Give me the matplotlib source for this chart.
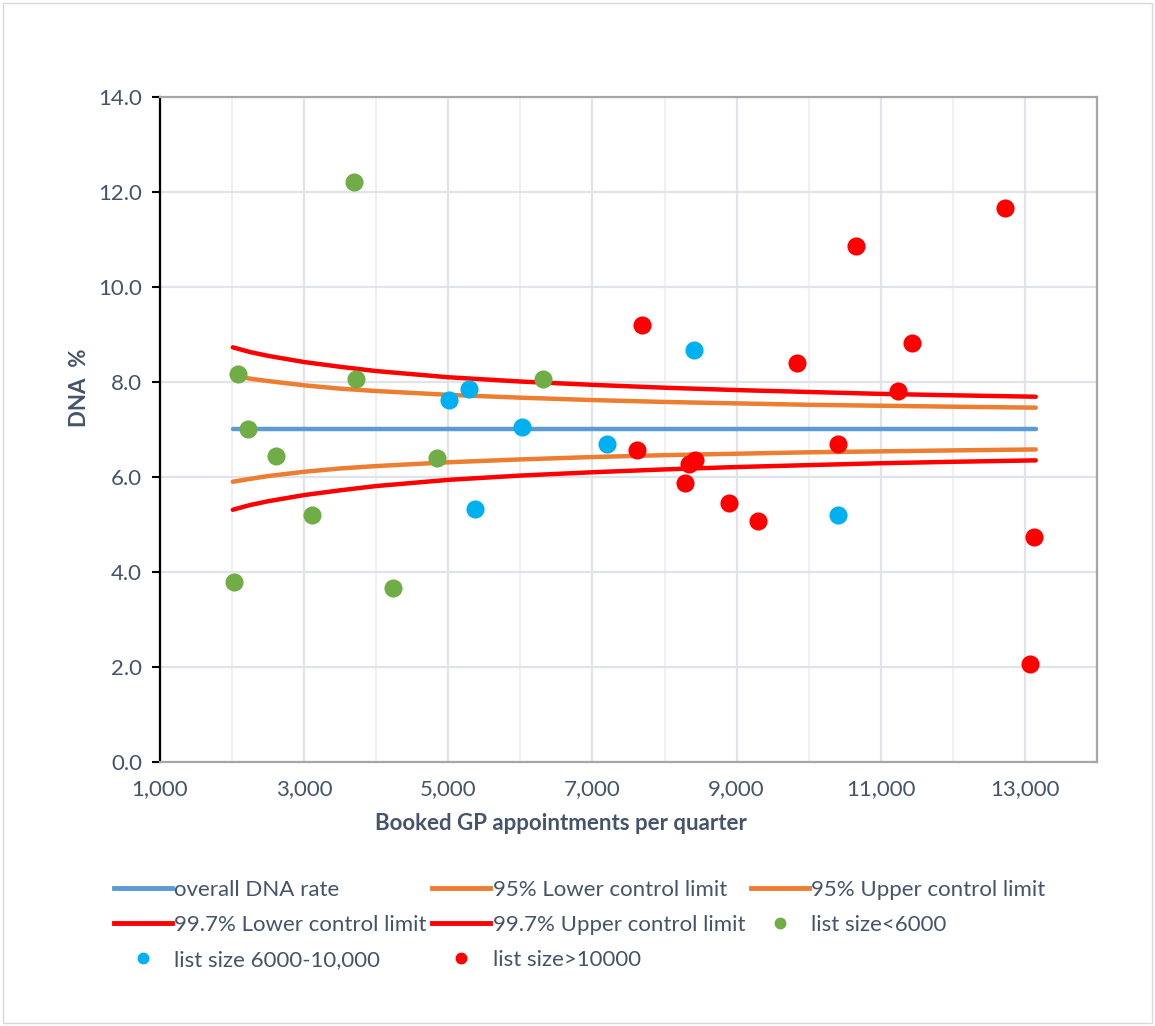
import matplotlib
matplotlib.use('Agg')
import matplotlib.pyplot as plt
import matplotlib.patches as mp
from matplotlib.lines import Line2D

plt.rcParams['font.family'] = ['Lato', 'DejaVu Sans']

# practices, split by list size
small_x = [2086, 2225, 2609, 3104, 2022, 3724, 3696, 4237, 4839, 6318]
small_y = [8.17, 7.01, 6.44, 5.19, 3.78, 8.06, 12.22, 3.66, 6.40, 8.06]

mid_x = [5010, 5287, 6026, 5375, 7206, 8404, 10411]
mid_y = [7.62, 7.85, 7.05, 5.32, 6.69, 8.67, 5.19]

large_x = [7687, 9837, 11437, 11239, 7618, 8422, 8344, 8284, 8889, 9296, 10411,
           13125, 10656, 12719, 13074]
large_y = [9.21, 8.41, 8.83, 7.82, 6.56, 6.35, 6.27, 5.88, 5.46, 5.07, 6.69,
           4.73, 10.86, 11.67, 2.06]

# control limits
lim_x = [2010, 2250, 2500, 3000, 3500, 4000, 5000, 6000, 7000, 8000, 9000, 10000, 11000, 12000, 13150]
overall = [7.02] * len(lim_x)
u95 = [8.14, 8.07, 8.02, 7.93, 7.86, 7.81, 7.73, 7.67, 7.62, 7.58, 7.55, 7.52, 7.50, 7.48, 7.46]
l95 = [5.90, 5.96, 6.02, 6.11, 6.18, 6.23, 6.31, 6.37, 6.42, 6.46, 6.49, 6.52, 6.54, 6.56, 6.58]
u997 = [8.73, 8.63, 8.55, 8.42, 8.32, 8.23, 8.10, 8.01, 7.94, 7.88, 7.83, 7.79, 7.75, 7.72, 7.69]
l997 = [5.31, 5.41, 5.49, 5.62, 5.72, 5.81, 5.94, 6.03, 6.10, 6.16, 6.21, 6.25, 6.29, 6.32, 6.35]

txt = '#44546a'
W, H = 1155, 1026
fs = 16

fig = plt.figure(figsize=(W / 100, H / 100), dpi=100)
fig.patches.append(mp.Rectangle((3 / W, 3 / H), 1 - 6 / W, 1 - 6 / H, transform=fig.transFigure,
                                fill=False, edgecolor='#d9d9d9', linewidth=1))
ax = fig.add_axes([160 / W, 1 - 762 / H, 937 / W, 665 / H])

ax.plot(lim_x, overall, color='#5b9bd5', linewidth=3.2, solid_capstyle='round', zorder=3)
ax.plot(lim_x, l95, color='#ed7d31', linewidth=3.2, solid_capstyle='round', zorder=3)
ax.plot(lim_x, u95, color='#ed7d31', linewidth=3.2, solid_capstyle='round', zorder=3)
ax.plot(lim_x, l997, color='#ff0000', linewidth=3.2, solid_capstyle='round', zorder=3)
ax.plot(lim_x, u997, color='#ff0000', linewidth=3.2, solid_capstyle='round', zorder=3)
ax.scatter(small_x, small_y, s=170, color='#70ad47', linewidths=0, zorder=4)
ax.scatter(mid_x, mid_y, s=170, color='#00b0f0', linewidths=0, zorder=4)
ax.scatter(large_x, large_y, s=170, color='#ff0000', linewidths=0, zorder=4)

ax.set_xlim(1000, 14000)
ax.set_ylim(0, 14)
ax.set_xticks(range(1000, 14001, 2000))
ax.set_xticks(range(2000, 14001, 2000), minor=True)
ax.set_xticklabels(['1,000', '3,000', '5,000', '7,000', '9,000', '11,000', '13,000'])
ax.set_yticks([0, 2, 4, 6, 8, 10, 12, 14])
ax.set_yticklabels(['%.1f' % v for v in [0, 2, 4, 6, 8, 10, 12, 14]])

ax.grid(True, which='major', color='#dfe3ea', linewidth=1.6, zorder=0)
ax.grid(True, which='minor', axis='x', color='#eef0f3', linewidth=1.6, zorder=0)
ax.set_axisbelow(True)

for s in ['top', 'right', 'bottom']:
    ax.spines[s].set_color('#a6a6a6')
    ax.spines[s].set_linewidth(1.6)
ax.spines['left'].set_color('black')
ax.spines['left'].set_linewidth(1.6)

ax.tick_params(axis='y', length=6, width=1.5, color='black', labelsize=fs, labelcolor=txt, pad=7)
ax.tick_params(axis='x', which='both', length=0, labelsize=fs, labelcolor=txt, pad=12)

fig.text(561 / W, 1 - 824 / H, 'Booked GP appointments per quarter', ha='center', va='center',
         fontsize=fs, fontweight='bold', color=txt)
fig.text(80 / W, 1 - 388 / H, 'DNA  %', ha='center', va='center', rotation=90,
         fontsize=fs, fontweight='bold', color=txt)

h_overall = Line2D([], [], color='#5b9bd5', linewidth=3.5)
h_l95 = Line2D([], [], color='#ed7d31', linewidth=3.5)
h_u95 = Line2D([], [], color='#ed7d31', linewidth=3.5)
h_l997 = Line2D([], [], color='#ff0000', linewidth=3.5)
h_u997 = Line2D([], [], color='#ff0000', linewidth=3.5)
h_small = Line2D([], [], color='#70ad47', marker='o', linestyle='none', markersize=7.5)
h_mid = Line2D([], [], color='#00b0f0', marker='o', linestyle='none', markersize=7.5)
h_large = Line2D([], [], color='#ff0000', marker='o', linestyle='none', markersize=7.5)

# ncol=3 fills column by column, so order the handles to read row by row
handles = [h_overall, h_l997, h_mid, h_l95, h_u997, h_large, h_u95, h_small]
labels = ['overall DNA rate', '99.7% Lower control limit', 'list size 6000-10,000',
          '95% Lower control limit', '99.7% Upper control limit', 'list size>10000',
          '95% Upper control limit', 'list size<6000']
leg = fig.legend(handles, labels, ncol=3, loc='upper left', bbox_to_anchor=(114 / W, 1 - 880 / H),
                 frameon=False, fontsize=fs, handlelength=2.6, handletextpad=0.12,
                 columnspacing=0.25, labelspacing=0.68, borderaxespad=0, borderpad=0)
for t in leg.get_texts():
    t.set_color(txt)

fig.savefig('out.png', dpi=100)
